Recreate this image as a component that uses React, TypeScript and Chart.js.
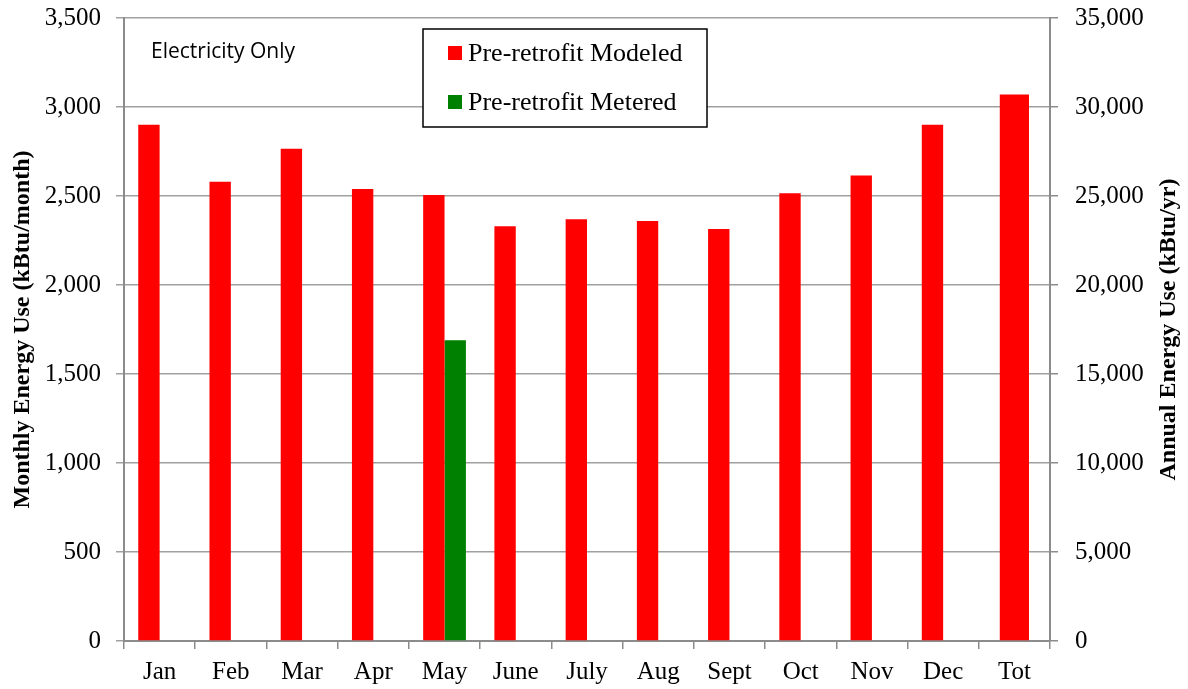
import React, { useEffect, useRef } from "react";
import { Chart, registerables } from "chart.js";

Chart.register(...registerables);

// Monthly categories plus the annual total slot
const categories = ["Jan", "Feb", "Mar", "Apr", "May", "June", "July", "Aug", "Sept", "Oct", "Nov", "Dec", "Tot"];

// kBtu/month, left axis
const modeledMonthly = [2900, 2580, 2765, 2540, 2505, 2330, 2370, 2360, 2315, 2515, 2615, 2900, null];
const meteredMonthly = [null, null, null, null, 1690, null, null, null, null, null, null, null, null];

// kBtu/yr, right axis
const annualModeled = [null, null, null, null, null, null, null, null, null, null, null, null, 30700];

const leftTicks = { min: 0, max: 3500, step: 500 };
const rightTicks = { min: 0, max: 35000, step: 5000 };

const RED = "#ff0000";
const GREEN = "#008000";
const SERIF = "'Liberation Serif', 'Times New Roman', serif";

const fmt = (v: number | string) => Number(v).toLocaleString("en-US");

const overlayPlugin = {
  id: "overlay",
  afterDraw(chart: any) {
    const { ctx, chartArea } = chart;
    ctx.save();

    // axis titles (both read bottom-to-top)
    ctx.fillStyle = "#000";
    ctx.font = `bold 24px ${SERIF}`;
    ctx.textAlign = "center";
    ctx.textBaseline = "middle";
    const midY = (chartArea.top + chartArea.bottom) / 2;
    ctx.save();
    ctx.translate(23, midY);
    ctx.rotate(-Math.PI / 2);
    ctx.fillText("Monthly Energy Use (kBtu/month)", 0, 0);
    ctx.restore();
    ctx.save();
    ctx.translate(1169, midY);
    ctx.rotate(-Math.PI / 2);
    ctx.fillText("Annual Energy Use (kBtu/yr)", 0, 0);
    ctx.restore();

    // note in the top-left of the plot
    ctx.font = `21px 'Open Sans', 'Liberation Sans', sans-serif`;
    ctx.textAlign = "left";
    ctx.textBaseline = "middle";
    ctx.fillText("Electricity Only", 151, 52);

    // boxed legend
    const bx = 423, by = 29, bw = 284, bh = 98;
    ctx.fillStyle = "#fff";
    ctx.fillRect(bx, by, bw, bh);
    ctx.strokeStyle = "#000";
    ctx.lineWidth = 1.5;
    ctx.strokeRect(bx, by, bw, bh);
    const items = [
      { label: "Pre-retrofit Modeled", color: RED, y: 53 },
      { label: "Pre-retrofit Metered", color: GREEN, y: 102 },
    ];
    ctx.font = `26px ${SERIF}`;
    for (const it of items) {
      ctx.fillStyle = it.color;
      ctx.fillRect(448, it.y - 7, 14, 14);
      ctx.fillStyle = "#000";
      ctx.fillText(it.label, 468, it.y + 1);
    }
    ctx.restore();
  },
};

const noPad = (scale: any) => {
  scale.paddingTop = 0;
  scale.paddingBottom = 0;
  scale.paddingLeft = 0;
  scale.paddingRight = 0;
};

export default function App() {
  const canvasRef = useRef<HTMLCanvasElement | null>(null);

  useEffect(() => {
    if (!canvasRef.current) return;
    const tickFont = { family: SERIF, size: 25 };
    const chart = new Chart(canvasRef.current, {
      type: "bar",
      data: {
        labels: categories,
        datasets: [
          {
            label: "Pre-retrofit Modeled",
            data: modeledMonthly,
            backgroundColor: RED,
            yAxisID: "y",
            categoryPercentage: 0.6,
            barPercentage: 1.0,
          },
          {
            label: "Pre-retrofit Metered",
            data: meteredMonthly,
            backgroundColor: GREEN,
            yAxisID: "y",
            categoryPercentage: 0.6,
            barPercentage: 1.0,
          },
          {
            label: "Annual Total",
            data: annualModeled,
            backgroundColor: RED,
            yAxisID: "y1",
            grouped: false,
            categoryPercentage: 0.41,
            barPercentage: 1.0,
          } as any,
        ],
      },
      options: {
        animation: false,
        responsive: true,
        maintainAspectRatio: false,
        layout: { padding: { top: 18, left: 0, right: 0, bottom: 0 } },
        plugins: {
          legend: { display: false },
          tooltip: { enabled: false },
          title: { display: false },
        },
        scales: {
          x: {
            offset: true,
            grid: { display: true, drawOnChartArea: false, drawTicks: true, tickLength: 8, color: "#8c8c8c", lineWidth: 1.5, offset: true },
            border: { display: true, color: "#8c8c8c", width: 2 },
            ticks: { font: tickFont, color: "#000", padding: 8, maxRotation: 0, autoSkip: false },
            afterFit: (scale: any) => { scale.height = 48; noPad(scale); },
          },
          y: {
            position: "left",
            min: leftTicks.min,
            max: leftTicks.max,
            grid: { color: "#a0a0a0", lineWidth: 1.5, drawTicks: true, tickLength: 8 },
            border: { display: true, color: "#8c8c8c", width: 2 },
            ticks: { stepSize: leftTicks.step, font: tickFont, color: "#000", padding: 15, callback: (v: any) => fmt(v) },
            afterFit: (scale: any) => { scale.width = 124; noPad(scale); },
          },
          y1: {
            position: "right",
            min: rightTicks.min,
            max: rightTicks.max,
            grid: { drawOnChartArea: false, color: "#8c8c8c", lineWidth: 1.5, drawTicks: true, tickLength: 8 },
            border: { display: true, color: "#8c8c8c", width: 2 },
            ticks: { stepSize: rightTicks.step, font: tickFont, color: "#000", padding: 17, callback: (v: any) => fmt(v) },
            afterFit: (scale: any) => { scale.width = 138; noPad(scale); },
          },
        },
      } as any,
      plugins: [overlayPlugin],
    });
    return () => chart.destroy();
  }, []);

  return (
    <div style={{ position: "fixed", left: 0, top: 0, width: 1188, height: 689, background: "#fff" }}>
      <canvas ref={canvasRef} />
    </div>
  );
}
